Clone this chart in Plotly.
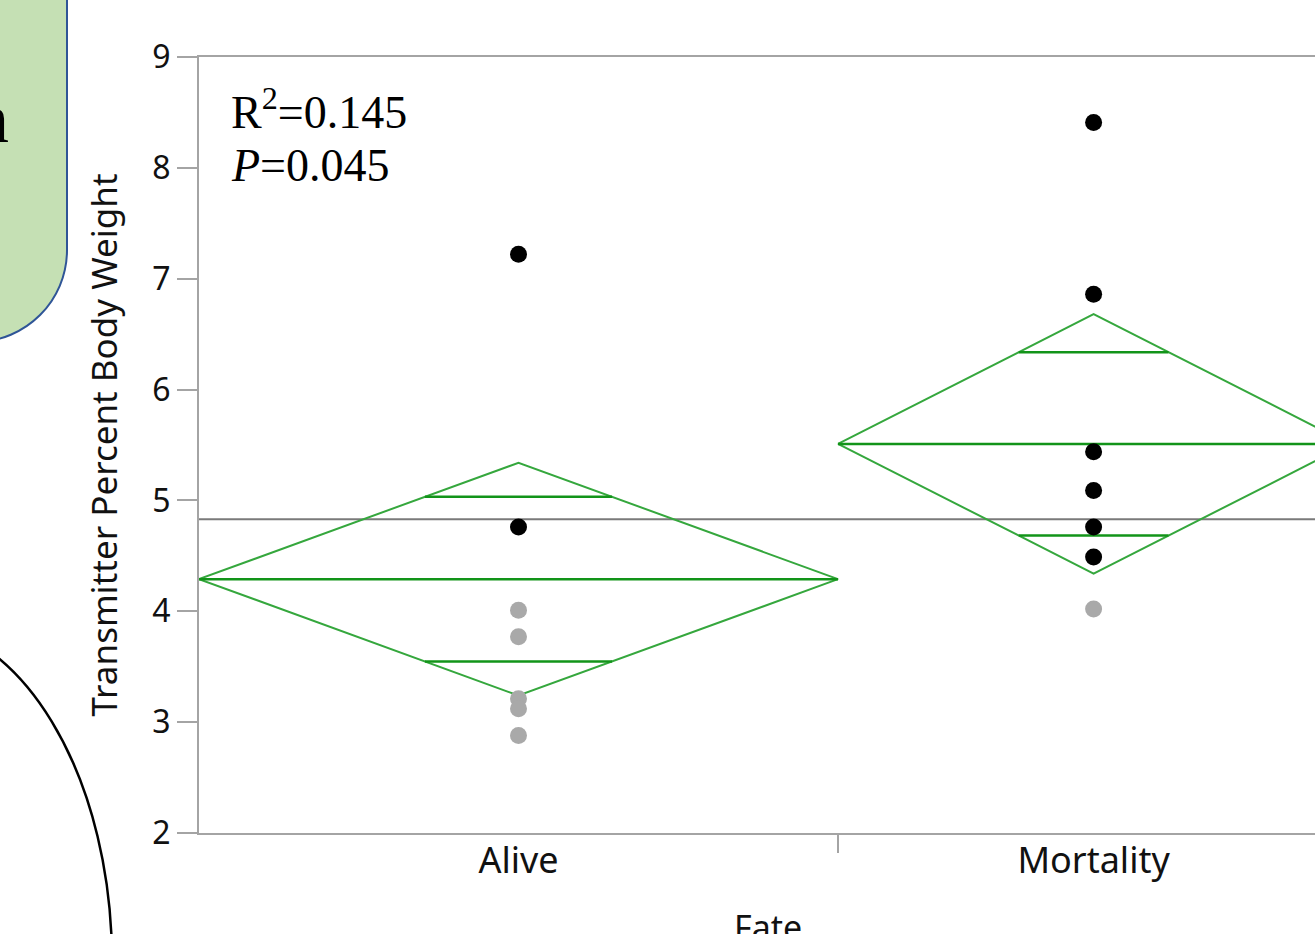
import math
import plotly.graph_objects as go

# ---- data ----
groups = ["Alive", "Mortality"]
group_n = [10, 8]                      # sample sizes (set the column widths)
group_mean = [4.29, 5.51]              # group means
group_ci = [1.05, 1.17]                # 95% CI half-widths (diamond heights)
grand_mean = 4.83

alive_main = [7.22, 4.76]
alive_excl = [4.01, 3.77, 3.21, 3.12, 2.88]
mort_main = [8.41, 6.86, 5.44, 5.09, 4.76, 4.49]
mort_excl = [4.02]

y_ticks = [2, 3, 4, 5, 6, 7, 8, 9]
stats_lines = ["R<sup>2</sup>=0.145", "<i>P</i>=0.045"]

# ---- geometry of the page ----
W, H = 1315, 934
PL, PR, PT, PB = 199, 1315, 57, 833
unit_px = 63.9                          # pixels per observation along x
x_max = (PR - PL) / unit_px


def px(x):
    return (x - PL) / (PR - PL)


def py(y):
    return (PB - y) / (PB - PT)


fig = go.Figure()

# grand mean
fig.add_trace(go.Scatter(x=[0, x_max], y=[grand_mean, grand_mean], mode="lines",
                         line=dict(color="#7a7a7a", width=2), hoverinfo="skip"))

edges = [0]
for n in group_n:
    edges.append(edges[-1] + n)

EDGE = "#35a73d"
MEAN = "#129419"
for i, g in enumerate(groups):
    left, right = edges[i], edges[i + 1]
    mid = (left + right) / 2
    m, hw = group_mean[i], group_ci[i]
    # means diamond
    fig.add_trace(go.Scatter(x=[left, mid, right, mid, left],
                             y=[m, m + hw, m, m - hw, m], mode="lines",
                             line=dict(color=EDGE, width=2), hoverinfo="skip"))
    # mean line
    fig.add_trace(go.Scatter(x=[left, right], y=[m, m], mode="lines",
                             line=dict(color=MEAN, width=2.5), hoverinfo="skip"))
    # overlap marks
    d = hw / math.sqrt(2)
    half = (right - left) / 2 * (1 - d / hw)
    for yy in (m + d, m - d):
        fig.add_trace(go.Scatter(x=[mid - half, mid + half], y=[yy, yy], mode="lines",
                                 line=dict(color=MEAN, width=2.5), hoverinfo="skip"))

centers = [(edges[i] + edges[i + 1]) / 2 for i in range(len(groups))]

for vals, c, col in [(alive_excl, centers[0], "#a9a9a9"), (mort_excl, centers[1], "#a9a9a9"),
                     (alive_main, centers[0], "#000000"), (mort_main, centers[1], "#000000")]:
    fig.add_trace(go.Scatter(x=[c] * len(vals), y=vals, mode="markers",
                             marker=dict(color=col, size=17, line=dict(width=0))))

# statistics text
for k, t in enumerate(stats_lines):
    fig.add_annotation(x=px(229), y=py(109 + 57 * k), xref="paper", yref="paper",
                       text=t, showarrow=False, xanchor="left", yanchor="middle",
                       font=dict(family="Liberation Serif", size=46, color="black"))

# x axis title
fig.add_annotation(x=px(768), y=py(902), xref="paper", yref="paper", text="Fate",
                   showarrow=False, xanchor="center", yanchor="top",
                   font=dict(family="Noto Sans", size=34, color="#111111"))

# callout box at the left edge
bx = [-60, 67, 67, -25]
by = [-10, 250, 342]
k = 0.552 * 92
path = (f"M {px(bx[0])},{py(by[0])} L {px(bx[1])},{py(by[0])} L {px(bx[1])},{py(by[1])} "
        f"C {px(67)},{py(250 + k)} {px(-25 + k)},{py(342)} {px(-25)},{py(342)} "
        f"L {px(bx[0])},{py(342)} Z")
fig.add_shape(type="path", path=path, xref="paper", yref="paper",
              fillcolor="#c5e0b4", line=dict(color="#2f5597", width=2), layer="above")
fig.add_annotation(x=px(11), y=py(118), xref="paper", yref="paper", text="n",
                   showarrow=False, xanchor="right", yanchor="middle",
                   font=dict(family="Liberation Serif", size=70, color="black"))

# large outlined ellipse at lower left
fig.add_shape(type="circle", xref="paper", yref="paper",
              x0=px(-300), x1=px(112), y0=py(1300), y1=py(622),
              line=dict(color="black", width=2.5), fillcolor="rgba(0,0,0,0)")

fig.update_layout(
    width=W, height=H, showlegend=False,
    margin=dict(l=PL, r=W - PR, t=PT, b=H - PB, pad=0),
    paper_bgcolor="white", plot_bgcolor="white",
    font=dict(family="Noto Sans", color="#111111"),
)
fig.update_xaxes(range=[0, x_max], showgrid=False, zeroline=False,
                 showline=True, linecolor="#a4a4a4", linewidth=2, mirror=True,
                 tickmode="array", tickvals=centers, ticktext=groups, ticks="",
                 tickfont=dict(size=36, color="#111111"), ticklabelstandoff=-5,
                 minor=dict(tickmode="array", tickvals=edges[1:-1], ticks="outside",
                            ticklen=18, tickwidth=2, tickcolor="#a4a4a4"))
fig.update_yaxes(range=[2, 9], showgrid=False, zeroline=False,
                 showline=True, linecolor="#a4a4a4", linewidth=2, mirror=False,
                 tickmode="array", tickvals=y_ticks, ticks="outside", ticklen=20,
                 tickwidth=2, tickcolor="#a4a4a4", tickfont=dict(size=32, color="#111111"),
                 title=dict(text="Transmitter Percent Body Weight",
                            font=dict(size=35, color="#111111"), standoff=24))

fig.write_html("out.html")
